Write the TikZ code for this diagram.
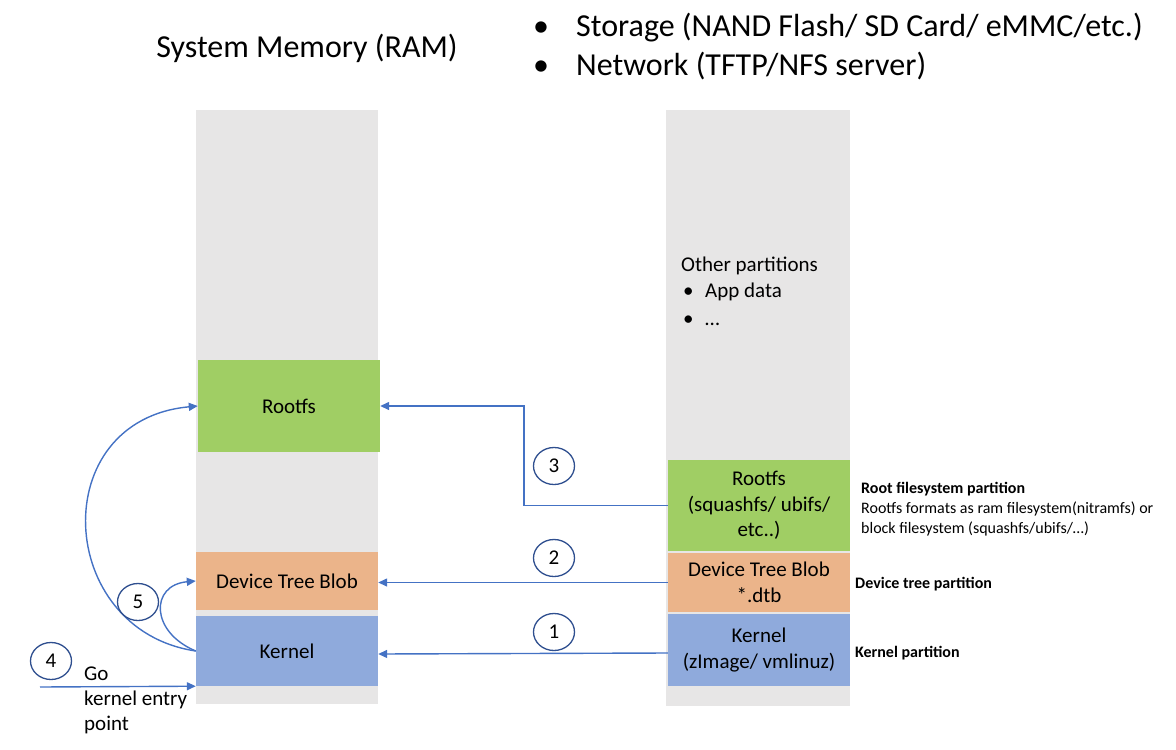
\documentclass[tikz,border=0pt]{standalone}
\usepackage{fontspec}
\setmainfont{Carlito}
\usetikzlibrary{shapes.geometric,arrows.meta}
\definecolor{colgray}{HTML}{E7E6E6}
\definecolor{rootgreen}{HTML}{A0CE64}
\definecolor{dtborange}{HTML}{EBB48A}
\definecolor{kernblue}{HTML}{8FAADC}
\definecolor{arrblue}{HTML}{4472C4}
\definecolor{ringblue}{HTML}{2F4F8F}
\begin{document}
\begin{tikzpicture}[x=1pt,y=-1pt,
  column/.style={rectangle,fill=colgray,inner sep=0pt},
  part/.style={rectangle,inner sep=0pt,align=center,font=\fontsize{21}{25.5}\selectfont},
  arr/.style={draw=arrblue,line width=1.4pt,-{Triangle[length=9pt,width=8pt]}},
  ring/.style={ellipse,draw=ringblue,line width=1.3pt,minimum width=41pt,minimum height=37pt,inner sep=0pt,font=\fontsize{21}{24}\selectfont},
  note/.style={anchor=base west,inner sep=0pt,font=\fontsize{16}{20}\selectfont},
  boldnote/.style={note,font=\fontsize{16}{20}\selectfont\bfseries},
  title/.style={anchor=base west,inner sep=0pt,font=\fontsize{32}{39}\selectfont},
  body/.style={anchor=base west,inner sep=0pt,font=\fontsize{21}{25}\selectfont}
]
\useasboundingbox (0,0) rectangle (1176,750);
% columns
\node[column,minimum width=182pt,minimum height=594pt] (ramcol) at (287,407) {};
\node[column,minimum width=184pt,minimum height=596pt] (stcol) at (758,408) {};
% RAM parts
\node[part,fill=rootgreen,minimum width=182pt,minimum height=92pt] (rrootfs) at (289,406) {Rootfs};
\node[part,fill=dtborange,minimum width=182pt,minimum height=58pt] (rdtb) at (287,581) {Device Tree Blob};
\node[part,fill=kernblue,minimum width=182pt,minimum height=70pt] (rkernel) at (287,651) {Kernel};
% storage parts
\node[part,fill=rootgreen,minimum width=182pt,minimum height=91pt] (srootfs) at (759,505.5) {Rootfs\\(squashfs/ ubifs/\\etc..)};
\node[part,fill=dtborange,minimum width=182pt,minimum height=59pt] (sdtb) at (759,582.5) {Device Tree Blob\\*.dtb};
\node[part,fill=kernblue,minimum width=182pt,minimum height=72pt] (skernel) at (759,650) {Kernel\\(zImage/ vmlinuz)};
% other partitions
\node[body] (other) at (681,271) {Other partitions};
\node[body] (ob1) at (681,297) {\hspace*{2pt}•};
\node[body] (ot1) at (705,297) {App data};
\node[body] (ob2) at (681,325) {\hspace*{2pt}•};
\node[body] (ot2) at (705,325) {…};
% titles
\node[title,anchor=base] (ramtitle) at (307,57) {System Memory (RAM)};
\node[title] (sb1) at (533,36) {•};
\node[title] (stor1) at (576,36) {Storage (NAND Flash/ SD Card/ eMMC/etc.)};
\node[title] (sb2) at (533,75) {•};
\node[title] (stor2) at (576,75) {Network (TFTP/NFS server)};
% notes
\node[boldnote] (n1) at (861,493) {Root filesystem partition};
\node[note] (n2) at (861,513) {Rootfs formats as ram filesystem(nitramfs) or};
\node[note] (n2b) at (861,533) {block filesystem (squashfs/ubifs/…)};
\node[boldnote] (n3) at (855,588) {Device tree partition};
\node[boldnote] (n4) at (855,657) {Kernel partition};
% arrows 1-3
\coordinate (bend3) at (524,406);
\draw[arr] (srootfs.west) -| (bend3) -- (rrootfs.east);
\draw[arr] (sdtb.west) -- (rdtb.east |- sdtb.west);
\draw[arr] (skernel.west |- 0,653) -- (rkernel.east |- 0,654);
\node[ring] (c1) at (554,632) {1};
\node[ring] (c2) at (554,558) {2};
\node[ring] (c3) at (554,466) {3};
% arrow 5
\draw[arr] (rkernel.west) .. controls (55,630) and (45,420) .. (rrootfs.west);
\draw[arr] (rkernel.west) .. controls (150,632) and (150,585) .. (rdtb.west);
\node[ring] (c5) at (138,602) {5};
% arrow 4
\coordinate (a4) at (40,687);
\draw[arr] (a4) -- (rkernel.south west);
\node[ring] (c4) at (51,661) {4};
\node[body] (go1) at (84,680) {Go};
\node[body] (go2) at (84,705) {kernel entry};
\node[body] (go3) at (84,730) {point};
\end{tikzpicture}
\end{document}
